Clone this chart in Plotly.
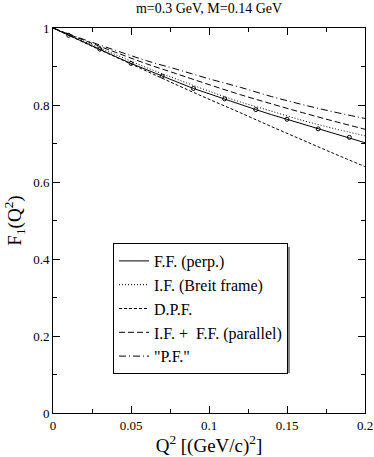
import plotly.graph_objects as go

q2 = [0.00, 0.01, 0.02, 0.03, 0.04, 0.05, 0.06, 0.07, 0.08, 0.09, 0.10,
      0.11, 0.12, 0.13, 0.14, 0.15, 0.16, 0.17, 0.18, 0.19, 0.20]
ff_perp = [1.000, 0.981, 0.963, 0.945, 0.926, 0.908, 0.891, 0.875, 0.859, 0.843, 0.829,
           0.816, 0.802, 0.788, 0.775, 0.763, 0.750, 0.738, 0.727, 0.716, 0.702]

q2_coarse = [0.00, 0.02, 0.04, 0.06, 0.08, 0.10, 0.12, 0.14, 0.16, 0.18, 0.20]
if_breit = [1.000, 0.965, 0.931, 0.897, 0.866, 0.836, 0.808, 0.784, 0.760, 0.739, 0.720]
dpf = [1.000, 0.962, 0.925, 0.888, 0.851, 0.815, 0.780, 0.744, 0.709, 0.674, 0.640]
if_ff_par = [1.000, 0.968, 0.937, 0.907, 0.880, 0.853, 0.827, 0.803, 0.780, 0.758, 0.737]
pf = [1.000, 0.970, 0.942, 0.915, 0.892, 0.868, 0.846, 0.822, 0.801, 0.782, 0.765]

names = ["F.F. (perp.)", "I.F. (Breit frame)", "D.P.F.", "I.F. +  F.F. (parallel)", '"P.F."']

FONT = "Liberation Serif"

fig = go.Figure()
fig.add_trace(go.Scatter(x=q2, y=ff_perp, mode="lines", name=names[0],
                         line=dict(color="black", width=1)))
fig.add_trace(go.Scatter(x=q2[1::2], y=ff_perp[1::2], mode="markers", showlegend=False,
                         marker=dict(symbol="circle-open", size=4, color="black",
                                     line=dict(width=1, color="black"))))
fig.add_trace(go.Scatter(x=q2_coarse, y=if_breit, mode="lines", name=names[1],
                         line=dict(color="black", width=1, dash="1px,2px"), line_shape="spline"))
fig.add_trace(go.Scatter(x=q2_coarse, y=dpf, mode="lines", name=names[2],
                         line=dict(color="black", width=1, dash="3px,2px"), line_shape="spline"))
fig.add_trace(go.Scatter(x=q2_coarse, y=if_ff_par, mode="lines", name=names[3],
                         line=dict(color="black", width=1, dash="6px,3px"), line_shape="spline"))
fig.add_trace(go.Scatter(x=q2_coarse, y=pf, mode="lines", name=names[4],
                         line=dict(color="black", width=1, dash="7px,3px,1px,3px"), line_shape="spline"))

axis_common = dict(
    showgrid=False, zeroline=False, showline=True, linecolor="black", linewidth=1,
    mirror="allticks", ticks="inside", ticklen=7, tickwidth=1, tickcolor="black",
    tickfont=dict(family=FONT, size=13, color="black"), automargin=False,
)

fig.update_xaxes(range=[0, 0.2], tickvals=[0, 0.05, 0.1, 0.15, 0.2],
                 ticktext=["0", "0.05", "0.1", "0.15", "0.2"],
                 minor=dict(tickvals=[0.025, 0.075, 0.125, 0.175], ticks="inside", ticklen=4,
                            tickcolor="black", tickwidth=1),
                 title=dict(text="Q<sup>2</sup> [(GeV/c)<sup>2</sup>]",
                            font=dict(family=FONT, size=19, color="black"), standoff=2),
                 **axis_common)
fig.update_yaxes(range=[0, 1], tickvals=[0, 0.2, 0.4, 0.6, 0.8, 1],
                 ticktext=["0", "0.2", "0.4", "0.6", "0.8", "1"],
                 minor=dict(tickvals=[0.1, 0.3, 0.5, 0.7, 0.9], ticks="inside", ticklen=4,
                            tickcolor="black", tickwidth=1),
                 title=dict(text="F<sub>1</sub>(Q<sup>2</sup>)",
                            font=dict(family=FONT, size=19, color="black"), standoff=6),
                 **axis_common)

# legend drop shadow (offset 3px right/down from the legend box)
fig.add_shape(type="rect", xref="paper", yref="paper",
              x0=(116 - 53) / 312, x1=(290 - 53) / 312,
              y0=(413 - 373) / 385, y1=(413 - 247) / 385,
              fillcolor="#888888", line=dict(width=0), layer="above")

fig.update_layout(
    width=374, height=457,
    margin=dict(l=53, r=9, t=28, b=44),
    paper_bgcolor="white", plot_bgcolor="white",
    title=dict(text="m=0.3 GeV, M=0.14 GeV", x=(53 + 365) / 2 / 374, xanchor="center",
               y=1 - 8 / 457, yanchor="middle",
               font=dict(family=FONT, size=14, color="black")),
    legend=dict(x=(113 - 53) / 312, y=(413 - 243) / 385, xanchor="left", yanchor="top",
                bgcolor="white", bordercolor="black", borderwidth=1,
                font=dict(family=FONT, size=16, color="black"),
                tracegroupgap=0, itemwidth=30),
    showlegend=True,
)

fig.write_html("out.html", config={"displayModeBar": False},
               post_script="document.body.style.margin='0px';")
